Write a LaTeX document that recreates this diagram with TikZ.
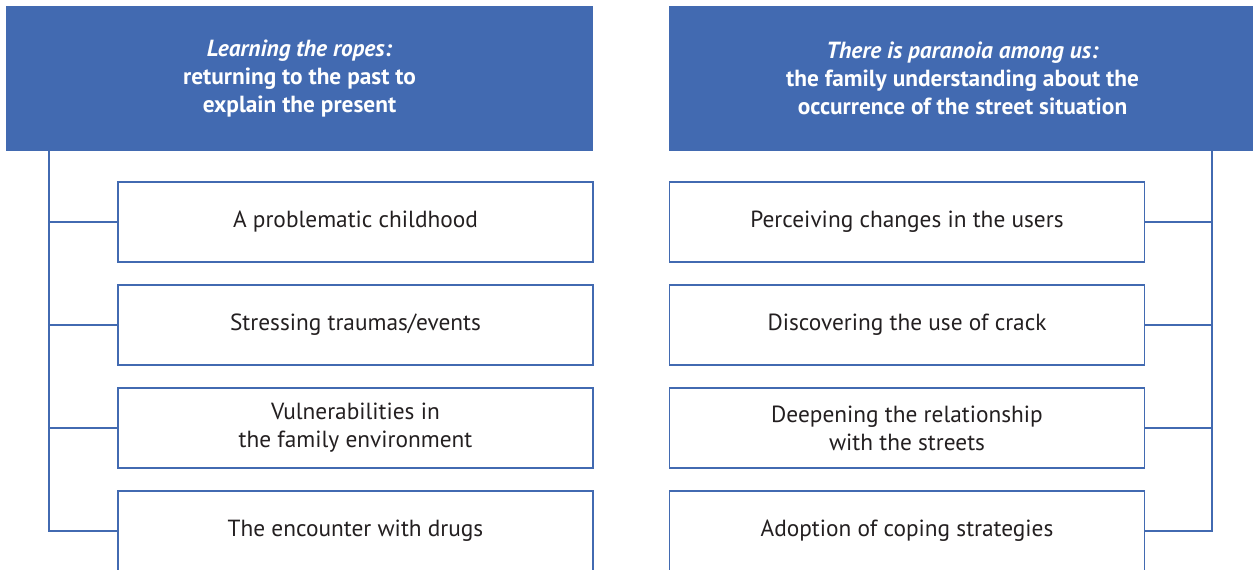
\documentclass[tikz,border=0pt]{standalone}
\usepackage{fontspec}
\setmainfont{PT Sans}
\usetikzlibrary{positioning}
\definecolor{hdblue}{RGB}{66,106,177}
\definecolor{txtgray}{RGB}{35,31,32}
\tikzset{
    header/.style = {fill = hdblue, text = white, font = \fontsize{17.5}{21}\selectfont\bfseries,
        minimum width = 440.25pt, minimum height = 108.75pt, align = center, inner sep = 0pt},
    theme/.style = {draw = hdblue, line width = 0.9pt, text = txtgray, font = \fontsize{17.5}{21}\selectfont,
        minimum width = 356.25pt, minimum height = 60pt, align = center, inner sep = 0pt},
    link/.style = {draw = hdblue, line width = 1.1pt}
}

\begin{document}
\begin{tikzpicture}[x = 0.75pt, y = -0.75pt]
        \useasboundingbox (0, 0) rectangle (1253, 570);
        \clip (0, 0) rectangle (1253, 570);
        % headers
        \node[header] (hdL) at (299.5, 78.5) {\textit{Learning the ropes:}\\returning to the past to\\explain the present};
        \node[header] (hdR) at (962.5, 78.5) {\textit{There is paranoia among us:}\\the family understanding about the\\occurrence of the street situation};
        % left column
        \node[theme] (bL1) at (355.5, 222) {A problematic childhood};
        \node[theme] (bL2) at (355.5, 325) {Stressing traumas/events};
        \node[theme] (bL3) at (355.5, 428) {Vulnerabilities in\\the family environment};
        \node[theme] (bL4) at (355.5, 531) {The encounter with drugs};
        % right column
        \node[theme] (bR1) at (907, 222) {Perceiving changes in the users};
        \node[theme] (bR2) at (907, 325) {Discovering the use of crack};
        \node[theme] (bR3) at (907, 428) {Deepening the relationship\\with the streets};
        \node[theme] (bR4) at (907, 531) {Adoption of coping strategies};
        % trunks
        \coordinate (trunkL) at (49, 0);
        \coordinate (trunkR) at (1212, 0);
        \draw[link] (trunkL |- hdL.south) |- (bL4.west);
        \draw[link] (trunkR |- hdR.south) |- (bR4.east);
        \foreach \i in {1, 2, 3} {
            \draw[link] (trunkL |- bL\i.west) -- (bL\i.west);
            \draw[link] (trunkR |- bR\i.east) -- (bR\i.east);
        }
    \end{tikzpicture}
\end{document}
